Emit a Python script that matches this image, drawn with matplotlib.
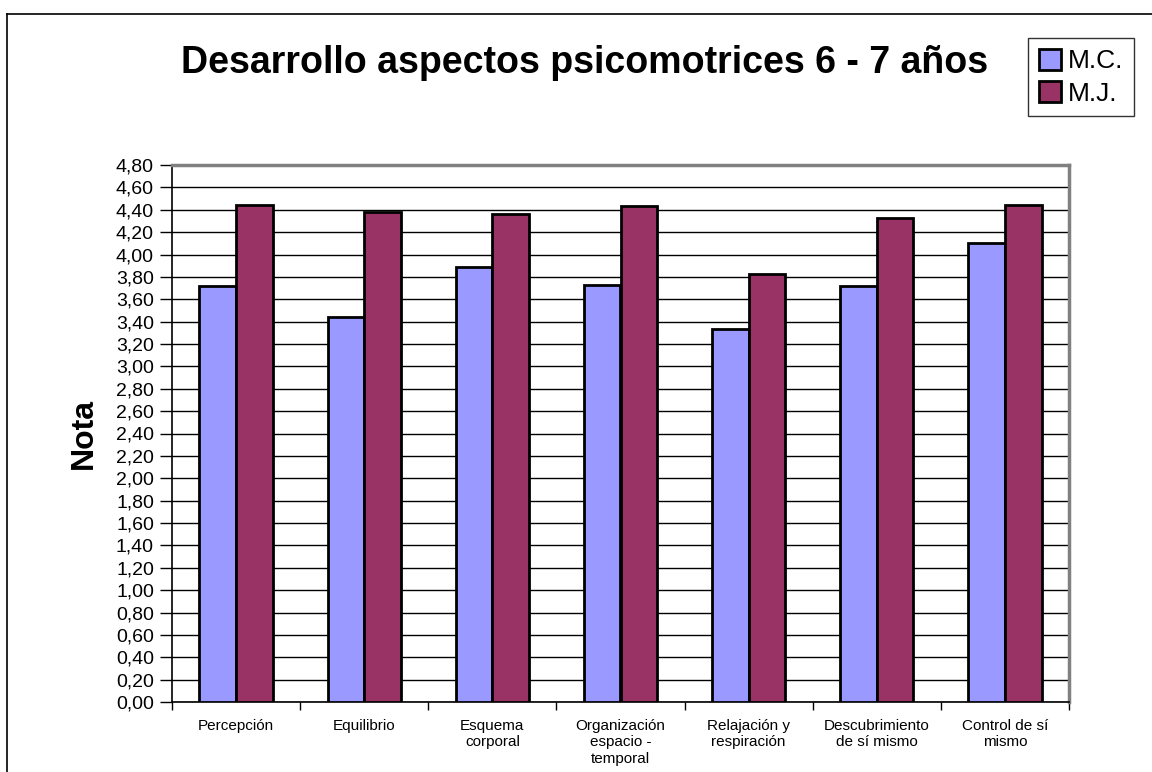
import matplotlib
matplotlib.use("Agg")
import matplotlib.pyplot as plt
import numpy as np
from matplotlib.lines import Line2D
from matplotlib.patches import Patch

plt.rcParams['font.family'] = ['Liberation Sans', 'DejaVu Sans']

categories = ["Percepción", "Equilibrio", "Esquema\ncorporal",
              "Organización\nespacio -\ntemporal", "Relajación y\nrespiración",
              "Descubrimiento\nde sí mismo", "Control de sí\nmismo"]
mc_values = [3.72, 3.44, 3.89, 3.73, 3.33, 3.72, 4.10]
mj_values = [4.44, 4.38, 4.36, 4.43, 3.83, 4.33, 4.44]
series_names = ["M.C.", "M.J."]
yticks = np.arange(0, 4.81, 0.2)
ytick_labels = [f"{v:.2f}".replace(".", ",") for v in yticks]
title = "Desarrollo aspectos psicomotrices 6 - 7 años"
ylabel = "Nota"

W, H = 1152, 772
fig = plt.figure(figsize=(W / 100, H / 100), dpi=100)

# outer chart border
fig.add_artist(Line2D([7 / W, 7 / W], [0, 1 - 14 / H], color='black', lw=1.2, transform=fig.transFigure))
fig.add_artist(Line2D([7 / W, 1], [1 - 14 / H, 1 - 14 / H], color='black', lw=1.2, transform=fig.transFigure))

ax = fig.add_axes([172 / W, 70 / H, (1069 - 172) / W, (702 - 165) / H])

n = len(categories)
x = np.arange(n)
bw = 1 / 3.5
ax.bar(x - bw / 2, mc_values, bw, color='#9999FF', edgecolor='black', linewidth=2, zorder=3, label=series_names[0])
ax.bar(x + bw / 2, mj_values, bw, color='#993366', edgecolor='black', linewidth=2, zorder=3, label=series_names[1])

ax.set_xlim(-0.5, n - 0.5)
ax.set_ylim(0, 4.8)
ax.set_yticks(yticks)
ax.set_yticklabels(ytick_labels, fontsize=14)
ax.yaxis.grid(True, color='black', linewidth=1)
ax.set_axisbelow(True)
ax.tick_params(axis='y', direction='out', length=9, width=1, pad=4)

ax.set_xticks(x)
ax.set_xticklabels(categories, fontsize=11, linespacing=1.25)
ax.tick_params(axis='x', which='major', length=0, pad=12)
ax.set_xticks(np.arange(-0.5, n, 1), minor=True)
ax.tick_params(axis='x', which='minor', direction='out', length=6, width=1)

for s in ['top', 'right']:
    ax.spines[s].set_color('#808080')
    ax.spines[s].set_linewidth(2.5)
for s in ['left', 'bottom']:
    ax.spines[s].set_color('black')
    ax.spines[s].set_linewidth(1.2)

ax.set_ylabel(ylabel, fontsize=23, fontweight='bold', labelpad=12)

fig.text(585 / W, 1 - 63 / H, title, fontsize=27, fontweight='bold', ha='center', va='center')

handles = [Patch(facecolor='#9999FF', edgecolor='black', linewidth=2),
           Patch(facecolor='#993366', edgecolor='black', linewidth=2)]
leg = fig.legend(handles, series_names, loc='upper left', bbox_to_anchor=(1028 / W, 1 - 38 / H),
                 fontsize=19, frameon=True, fancybox=False, handlelength=0.85, handleheight=0.85,
                 handletextpad=0.25, borderpad=0.4, labelspacing=0.3, borderaxespad=0)
leg.get_frame().set_edgecolor('black')
leg.get_frame().set_linewidth(1)

fig.savefig("out.png", dpi=100)
